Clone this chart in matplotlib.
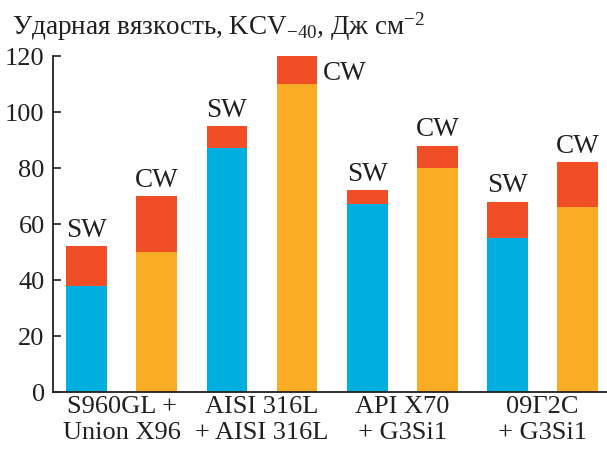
import matplotlib
matplotlib.use("Agg")
import matplotlib.pyplot as plt
import numpy as np

plt.rcParams['font.family'] = ['Liberation Serif', 'DejaVu Serif']
plt.rcParams['mathtext.fontset'] = 'custom'
plt.rcParams['mathtext.rm'] = 'Liberation Serif'
plt.rcParams['mathtext.it'] = 'Liberation Serif:italic'

groups = ["S960GL +\nUnion X96", "AISI 316L\n+ AISI 316L", "API X70\n+ G3Si1", "09Г2С\n+ G3Si1"]
sw_base = [38, 87, 67, 55]
sw_total = [52, 95, 72, 68]
cw_base = [50, 110, 80, 66]
cw_total = [70, 120, 88, 82]
yticks = [0, 20, 40, 60, 80, 100, 120]
title = "Ударная вязкость, KCV$_{-40}$, Дж см$^{-2}$"

c_blue = "#00AEDF"
c_orange = "#F9AC24"
c_red = "#F04E27"
c_text = '#231f20'

W, H = 607, 452
fig = plt.figure(figsize=(W/100, H/100), dpi=100)
ax = fig.add_axes([53/W, 1-393/H, 1-53/W, (393-57)/H])

n = len(groups)
x_sw = np.arange(n) * 2
x_cw = x_sw + 1
bw = 0.58

sw_top = np.array(sw_total) - np.array(sw_base)
cw_top = np.array(cw_total) - np.array(cw_base)
ax.bar(x_sw, sw_base, bw, color=c_blue, linewidth=0)
ax.bar(x_sw, sw_top, bw, bottom=sw_base, color=c_red, linewidth=0)
ax.bar(x_cw, cw_base, bw, color=c_orange, linewidth=0)
ax.bar(x_cw, cw_top, bw, bottom=cw_base, color=c_red, linewidth=0)

fs = 19.5
for i in range(n):
    ax.annotate("SW", (x_sw[i], sw_total[i]), xytext=(0, 3), textcoords='offset points',
                ha='center', va='bottom', fontsize=fs, color=c_text)
    if cw_total[i] >= 119:
        ax.annotate("CW", (x_cw[i] + bw/2, cw_total[i]), xytext=(4, -3), textcoords='offset points',
                    ha='left', va='top', fontsize=fs, color=c_text)
    else:
        ax.annotate("CW", (x_cw[i], cw_total[i]), xytext=(0, 3), textcoords='offset points',
                    ha='center', va='bottom', fontsize=fs, color=c_text)

ax.set_xlim(-0.48, 7.42)
ax.set_ylim(0, 120)
ax.set_yticks(yticks)
ax.set_yticklabels([str(v) for v in yticks], fontsize=19, color=c_text)
ax.set_xticks(x_sw + 0.5)
ax.set_xticklabels(groups, fontsize=19, color=c_text, linespacing=1.22)
ax.tick_params(axis='x', length=0, pad=2)
ax.tick_params(axis='y', direction='in', length=6, width=1.2, pad=6, color=c_text)
for s in ['top', 'right']:
    ax.spines[s].set_visible(False)
for s in ['left', 'bottom']:
    ax.spines[s].set_linewidth(1.3)
    ax.spines[s].set_color(c_text)

fig.text(12/W, 1-35/H, title, fontsize=fs, ha='left', va='baseline', color=c_text)

fig.savefig("out.png", dpi=100)
